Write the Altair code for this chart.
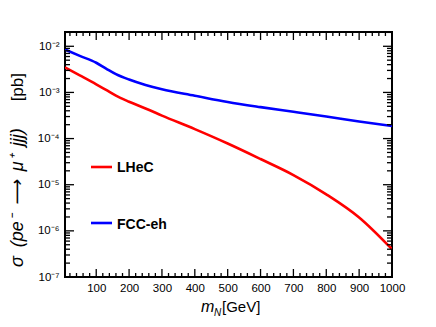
import altair as alt
import pandas as pd

# ---- data ----
mass = [5, 50, 100, 130, 160, 200, 250, 300, 400, 500, 600, 700, 800, 900, 1000]
lhec = [3.5e-3, 2.35e-3, 1.5e-3, 1.13e-3, 8.5e-4, 6.3e-4, 4.5e-4, 3.15e-4,
        1.6e-4, 7.8e-5, 3.6e-5, 1.62e-5, 6.2e-6, 1.95e-6, 4.0e-7]
fcceh = [8.5e-3, 6.2e-3, 4.4e-3, 3.3e-3, 2.5e-3, 1.9e-3, 1.45e-3, 1.17e-3,
         8.5e-4, 6.2e-4, 4.8e-4, 3.8e-4, 3.0e-4, 2.35e-4, 1.87e-4]
series = ["LHeC", "FCC-eh"]
colors = ["#ff0000", "#0000ff"]

x_major = [100, 200, 300, 400, 500, 600, 700, 800, 900, 1000]
x_minor = [v for v in range(20, 1000, 20) if v % 100 != 0]
y_major = [1e-7, 1e-6, 1e-5, 1e-4, 1e-3, 1e-2]
y_minor = [m * 10.0 ** k for k in range(-7, -1) for m in range(2, 10)]
y_minor = [v for v in y_minor if v <= 0.0204]

df = pd.concat([
    pd.DataFrame({"mN": mass, "sigma": lhec, "process": series[0]}),
    pd.DataFrame({"mN": mass, "sigma": fcceh, "process": series[1]}),
])

W, H = 327, 245
FONT = "Liberation Sans, Arial, sans-serif"
xscale = alt.Scale(domain=[5, 1000], nice=False, zero=False)
yscale = alt.Scale(type="log", domain=[1e-7, 0.0204], nice=False)

sup = "['⁰','¹','²','³','⁴','⁵','⁶','⁷','⁸','⁹']"
ylabel_expr = "'10⁻' + " + sup + "[round(-log(datum.value)/LN10)]"

lab_x = alt.Axis(values=x_major, format="d", ticks=False, tickSize=0, domain=False, grid=False,
                 title=None, labelFont=FONT, labelFontSize=11.5, labelColor="black",
                 labelPadding=5, labelOverlap=False, labelFlush=False)
lab_y = alt.Axis(values=y_major, ticks=False, tickSize=0, domain=False, grid=False,
                 title=None, labelFont=FONT, labelFontSize=11.5, labelColor="black",
                 labelPadding=6, labelOverlap=False, labelExpr=ylabel_expr)

lines = alt.Chart(df).mark_line(strokeWidth=2.6, clip=True, interpolate="monotone").encode(
    x=alt.X("mN:Q", scale=xscale, axis=lab_x),
    y=alt.Y("sigma:Q", scale=yscale, axis=lab_y),
    color=alt.Color("process:N", scale=alt.Scale(domain=series, range=colors), legend=None),
    detail="process:N",
)

# inward ticks on all four sides, placed through the scales
def xticks(values, size):
    base = alt.Chart(pd.DataFrame({"v": values})).mark_rule(color="black", strokeWidth=1.3)
    enc_x = alt.X("v:Q", scale=xscale, axis=lab_x)
    return [
        base.encode(x=enc_x, y=alt.value(H), y2=alt.value(H - size)),
        base.encode(x=enc_x, y=alt.value(0), y2=alt.value(size)),
    ]


def yticks(values, size):
    base = alt.Chart(pd.DataFrame({"v": values})).mark_rule(color="black", strokeWidth=1.3)
    enc_y = alt.Y("v:Q", scale=yscale, axis=lab_y)
    return [
        base.encode(y=enc_y, x=alt.value(0), x2=alt.value(size)),
        base.encode(y=enc_y, x=alt.value(W), x2=alt.value(W - size)),
    ]


ticks = xticks(x_major, 8) + xticks(x_minor, 4) + yticks(y_major, 9) + yticks(y_minor, 5)

one = pd.DataFrame({"a": [0]})

# legend
leg = []
for name, col, ly, ty in [(series[0], colors[0], 135, 140), (series[1], colors[1], 191, 197)]:
    leg.append(alt.Chart(one).mark_rule(color=col, strokeWidth=2.6).encode(
        x=alt.value(26), x2=alt.value(47), y=alt.value(ly)))
    leg.append(alt.Chart(one).mark_text(text=name, font=FONT, fontSize=14, fontWeight="bold",
                                        align="left", baseline="alphabetic", color="black").encode(
        x=alt.value(52), y=alt.value(ty)))

# axis titles
ytitle_main = "σ\u2002(pe⁻\u2002⟶\u2002μ⁺\u2002jjj)"
titles = [
    alt.Chart(one).mark_text(text="m", font=FONT, fontSize=16, fontStyle="italic",
                             align="left", baseline="alphabetic", color="black").encode(
        x=alt.value(136), y=alt.value(280)),
    alt.Chart(one).mark_text(text="N", font=FONT, fontSize=10, fontStyle="italic",
                             align="left", baseline="alphabetic", color="black").encode(
        x=alt.value(149), y=alt.value(284)),
    alt.Chart(one).mark_text(text="[GeV]", font=FONT, fontSize=15,
                             align="left", baseline="alphabetic", color="black").encode(
        x=alt.value(157), y=alt.value(280)),
    alt.Chart(one).mark_text(text=ytitle_main, font=FONT, fontSize=18, fontStyle="italic",
                             angle=270, align="left", baseline="middle", color="black").encode(
        x=alt.value(-47), y=alt.value(235)),
    alt.Chart(one).mark_text(text="[pb]", font=FONT, fontSize=17,
                             angle=270, align="right", baseline="middle", color="black").encode(
        x=alt.value(-47), y=alt.value(41)),
]

chart = alt.layer(lines, *ticks, *leg, *titles).properties(
    width=W, height=H,
    autosize=alt.AutoSizeParams(type="none"),
    padding={"left": 57, "top": 24, "right": 36, "bottom": 42},
    background="white",
).configure_view(stroke="black", strokeWidth=2)

chart.save("out.html", embed_options={"renderer": "svg", "actions": False})
